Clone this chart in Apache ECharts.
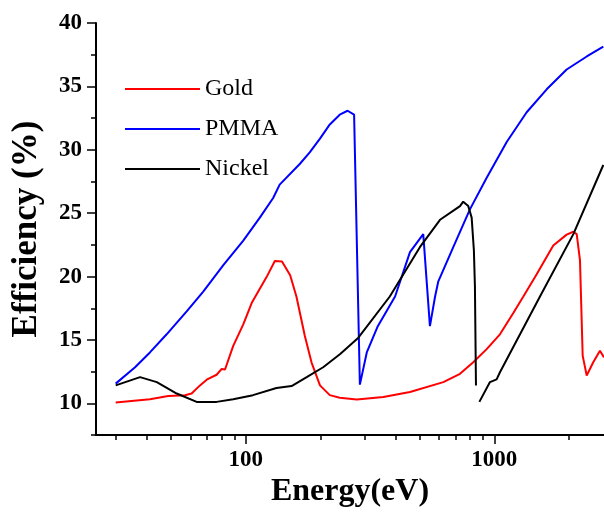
<!DOCTYPE html>
<html>
<head>
<meta charset="utf-8">
<script src="https://cdn.jsdelivr.net/npm/echarts@6/dist/echarts.min.js"></script>
<style>
  html, body { margin: 0; padding: 0; background: #fff; }
  #chart { width: 604px; height: 513px; }
</style>
</head>
<body>
<div id="chart"></div>
<script>
// energies (eV) and efficiencies (%)
const goldE = [30, 41.2, 48.8, 57.0, 60.6, 65.5, 69.7, 76.4, 80.1, 82.6, 89.1, 97.8, 105.7, 121.5, 131, 140, 151, 160, 173, 184, 199, 218, 239, 280, 358, 458, 624, 728, 823, 932, 1054, 1193, 1309, 1481, 1727, 1955, 2079, 2146, 2212, 2268, 2289, 2354, 2501, 2661, 2763]
const goldV = [10.08, 10.33, 10.59, 10.65, 10.78, 11.42, 11.87, 12.26, 12.72, 12.67, 14.54, 16.23, 17.91, 19.98, 21.23, 21.2, 20.1, 18.43, 15.32, 13.24, 11.42, 10.65, 10.44, 10.31, 10.51, 10.9, 11.68, 12.33, 13.24, 14.28, 15.45, 17.13, 18.43, 20.18, 22.45, 23.31, 23.54, 23.35, 21.28, 13.76, 13.37, 12.2, 13.24, 14.15, 13.63]

const pmmaE = [30, 35.9, 41.2, 48.1, 57.9, 67.5, 81.3, 97.8, 114, 129, 137, 165, 181, 199, 218, 239, 257, 273, 288, 307, 340, 399, 458, 518, 551, 578, 595, 684, 798, 931, 1122, 1350, 1625, 1955, 2355, 2745]
const pmmaV = [11.56, 12.85, 14.02, 15.45, 17.26, 18.82, 20.9, 22.84, 24.65, 26.2, 27.25, 28.88, 29.79, 30.88, 32.0, 32.77, 33.08, 32.77, 11.48, 14.02, 16.09, 18.43, 21.93, 23.35, 16.09, 18.43, 19.6, 22.32, 25.3, 27.77, 30.62, 32.96, 34.77, 36.33, 37.36, 38.14]

const nickelE = [30, 37.6, 43.9, 52.8, 63.5, 76.4, 89.1, 107, 133, 153, 176, 205, 240, 284, 380, 502, 605, 706, 728, 750, 786, 811, 828, 836, 844, 857, 871, 961, 1022, 1054, 1527, 2080, 2745]
const nickelV = [11.42, 12.07, 11.68, 10.78, 10.12, 10.12, 10.33, 10.65, 11.21, 11.37, 12.07, 12.85, 13.89, 15.18, 18.43, 22.32, 24.48, 25.38, 25.56, 25.91, 25.56, 24.65, 22.06, 19.2, 11.42, null, 10.12, 11.68, 11.89, 12.46, 18.43, 23.35, 28.8]

const xMajor = [100, 1000]
const xMinor = [30, 40, 50, 60, 70, 80, 90, 200, 300, 400, 500, 600, 700, 800, 900, 2000]
const yMajor = [10, 15, 20, 25, 30, 35, 40]
const yMinor = [7.5, 12.5, 17.5, 22.5, 27.5, 32.5, 37.5]

const serif = 'Liberation Serif'
const xMin = 25
const xMax = 2763

const pairs = (es, vs) => es.map((e, i) => [e, vs[i] == null ? '-' : vs[i]])

const chart = echarts.init(document.getElementById('chart'))

const lineSeries = (name, color, data) => ({
  name,
  type: 'line',
  data,
  color,
  showSymbol: false,
  symbol: 'none',
  connectNulls: false,
  lineStyle: { color, width: 2 },
  animation: false
})

const option = {
  backgroundColor: '#fff',
  grid: { left: 96, right: 0, top: 23, bottom: 72 },
  legend: {
    orient: 'vertical',
    left: 120,
    top: 72,
    itemWidth: 75,
    itemHeight: 2,
    itemGap: 16,
    icon: 'rect',
    textStyle: { fontFamily: serif, fontSize: 24, color: '#000' },
    data: ['Gold', 'PMMA', 'Nickel']
  },
  xAxis: [
    {
      type: 'log',
      min: xMin,
      max: xMax,
      name: 'Energy(eV)',
      nameLocation: 'middle',
      nameGap: 38,
      nameTextStyle: { fontFamily: serif, fontWeight: 'bold', fontSize: 32, color: '#000' },
      axisLine: { show: true, lineStyle: { color: '#000', width: 2 } },
      axisTick: { show: true, length: 9, customValues: xMajor, lineStyle: { color: '#000', width: 1.5 } },
      axisLabel: {
        customValues: xMajor,
        formatter: v => String(Math.round(v)),
        margin: 13,
        fontFamily: serif,
        fontWeight: 'bold',
        fontSize: 23,
        color: '#000'
      },
      splitLine: { show: false }
    },
    {
      type: 'log',
      min: xMin,
      max: xMax,
      position: 'bottom',
      axisLine: { show: false },
      axisTick: { show: true, length: 5, customValues: xMinor, lineStyle: { color: '#000', width: 1.5 } },
      axisLabel: { show: false },
      splitLine: { show: false }
    }
  ],
  yAxis: [
    {
      type: 'value',
      min: 7.5,
      max: 40,
      interval: 2.5,
      name: 'Efficiency (%)',
      nameLocation: 'middle',
      nameGap: 52,
      nameTextStyle: { fontFamily: serif, fontWeight: 'bold', fontSize: 35, color: '#000' },
      axisLine: { show: true, lineStyle: { color: '#000', width: 2 } },
      axisTick: { show: true, length: 9, customValues: yMajor, lineStyle: { color: '#000', width: 1.5 } },
      axisLabel: { customValues: yMajor, margin: 14, fontFamily: serif, fontWeight: 'bold', fontSize: 23, color: '#000' },
      splitLine: { show: false }
    },
    {
      type: 'value',
      min: 7.5,
      max: 40,
      interval: 2.5,
      position: 'left',
      axisLine: { show: false },
      axisTick: { show: true, length: 5, customValues: yMinor, lineStyle: { color: '#000', width: 1.5 } },
      axisLabel: { show: false },
      splitLine: { show: false }
    }
  ],
  series: [
    lineSeries('Gold', '#ff0000', pairs(goldE, goldV)),
    lineSeries('PMMA', '#0000ff', pairs(pmmaE, pmmaV)),
    lineSeries('Nickel', '#000000', pairs(nickelE, nickelV))
  ]
}

chart.setOption(option)
</script>
</body>
</html>
